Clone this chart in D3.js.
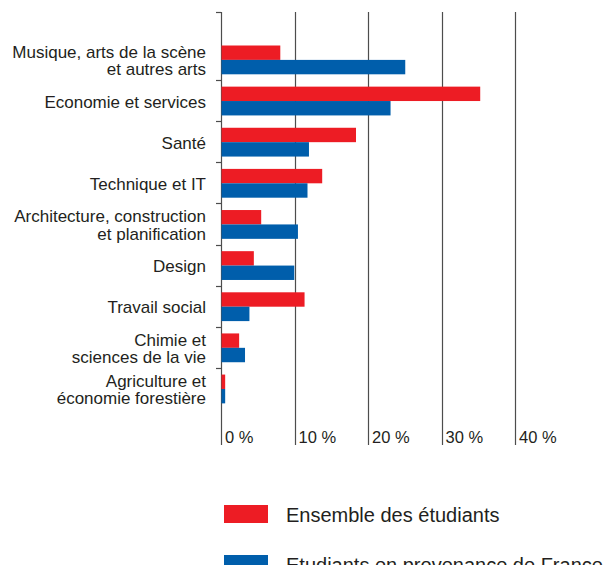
<!DOCTYPE html>
<html>
<head>
<meta charset="utf-8">
<script src="https://cdn.jsdelivr.net/npm/d3@7"></script>
<style>
  body { margin: 0; background: #fff; }
  svg { font-family: "Liberation Sans", Arial, sans-serif; }
  .cat text, .tick-label { fill: #231f20; }
</style>
</head>
<body>
<div id="chart"></div>
<script>
// categories (label lines) and the two series, in %
const categories = [
  ["Musique, arts de la scène", "et autres arts"],
  ["Economie et services"],
  ["Santé"],
  ["Technique et IT"],
  ["Architecture, construction", "et planification"],
  ["Design"],
  ["Travail social"],
  ["Chimie et", "sciences de la vie"],
  ["Agriculture et", "économie forestière"]
];
const ensemble = [8.0, 35.2, 18.3, 13.7, 5.4, 4.4, 11.3, 2.4, 0.5];
const france   = [25.0, 23.0, 11.9, 11.7, 10.4, 9.9, 3.8, 3.2, 0.5];
const xTicks = [0, 10, 20, 30, 40];
const seriesNames = ["Ensemble des étudiants", "Etudiants en provenance de France"];
const colors = ["#ed1c24", "#005eab"];

const width = 606, height = 565;
const svg = d3.select("#chart").append("svg")
  .attr("width", width)
  .attr("height", height);

const keys = categories.map((c, i) => i);
const x = d3.scaleLinear().domain([0, 40]).range([221, 515]);
const y = d3.scaleBand().domain(keys).range([38.9, 409.1]).padding(0);
const ys = d3.scaleBand().domain([0, 1]).range([6.6, 35.4]);

const axisTop = 12, axisBottom = 445;

// grid lines
svg.append("g").selectAll("line")
  .data(xTicks)
  .join("line")
  .attr("x1", d => Math.round(x(d)) + 0.5)
  .attr("x2", d => Math.round(x(d)) + 0.5)
  .attr("y1", axisTop)
  .attr("y2", axisBottom)
  .attr("stroke", "#4d4d4d")
  .attr("stroke-width", 1.2);

// category ticks: top of axis and band boundaries
const tickYs = [axisTop].concat(keys.slice(1).map(k => y(k)));
svg.append("g").selectAll("line")
  .data(tickYs)
  .join("line")
  .attr("x1", 216)
  .attr("x2", 221)
  .attr("y1", d => Math.round(d) + 0.5)
  .attr("y2", d => Math.round(d) + 0.5)
  .attr("stroke", "#4d4d4d")
  .attr("stroke-width", 1.2);

// bars
const series = [ensemble, france];
series.forEach((vals, s) => {
  svg.append("g").selectAll("rect")
    .data(vals)
    .join("rect")
    .attr("x", x(0) + 0.5)
    .attr("y", (d, i) => y(i) + ys(s))
    .attr("width", d => x(d) - x(0))
    .attr("height", ys.bandwidth())
    .attr("fill", colors[s]);
});

// category labels
const cat = svg.append("g").attr("class", "cat")
  .attr("font-size", 17)
  .attr("text-anchor", "end");
categories.forEach((lines, i) => {
  const cy = y(i) + y.bandwidth() / 2 + 1;
  const lh = 17.6;
  const t = cat.append("text")
    .attr("x", 206)
    .attr("y", cy - (lines.length - 1) * lh / 2);
  lines.forEach((ln, j) => {
    t.append("tspan")
      .attr("x", 206)
      .attr("dy", j === 0 ? "0.35em" : lh)
      .text(ln);
  });
});

// x tick labels
svg.append("g").selectAll("text")
  .data(xTicks)
  .join("text")
  .attr("class", "tick-label")
  .attr("x", d => x(d) + 4)
  .attr("y", 443)
  .attr("font-size", 16.5)
  .text(d => d + " %");

// legend
const legend = svg.append("g");
seriesNames.forEach((name, s) => {
  const ly = 505 + s * 50;
  legend.append("rect")
    .attr("x", 224)
    .attr("y", ly)
    .attr("width", 44)
    .attr("height", 18)
    .attr("fill", colors[s]);
  legend.append("text")
    .attr("class", "tick-label")
    .attr("x", 286)
    .attr("y", ly + 17)
    .attr("font-size", 20)
    .text(name);
});
</script>
</body>
</html>
